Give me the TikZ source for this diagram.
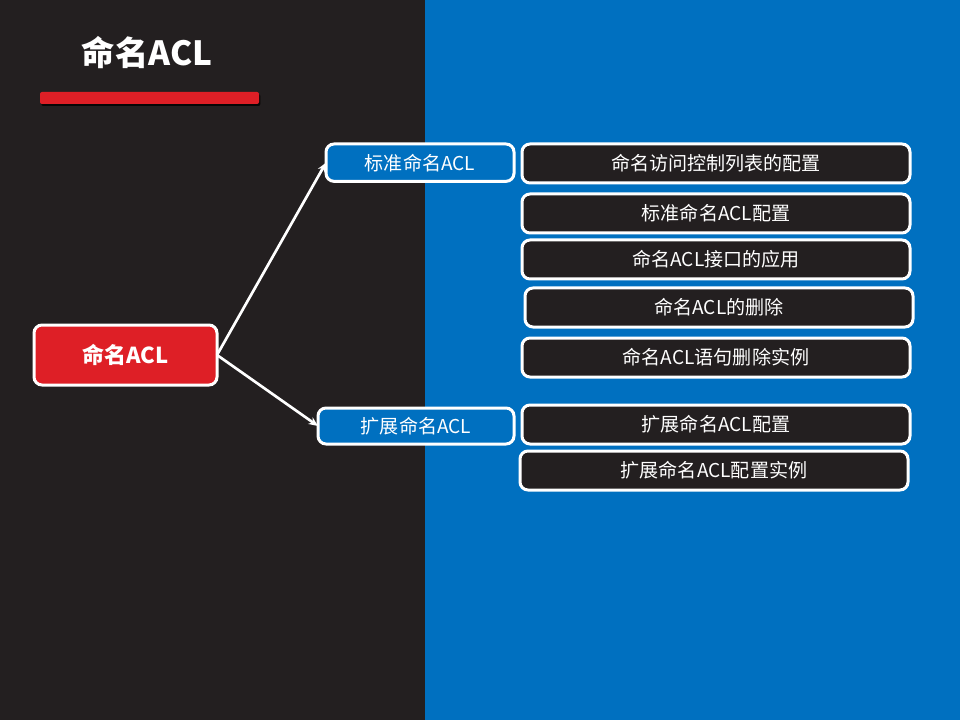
\documentclass[tikz,border=0pt]{standalone}
\usepackage{fontspec}
\setmainfont{Noto Sans CJK SC}
\usetikzlibrary{positioning, arrows.meta, shadows}
\definecolor{slidedark}{HTML}{231F20}
\definecolor{slideblue}{HTML}{0070C0}
\definecolor{aclred}{HTML}{DE1F26}

\begin{document}
\begin{tikzpicture}[x=0.75pt, y=-0.75pt, outer sep=0pt,
    every node/.style={draw=white, line width=2.25pt, rounded corners=6pt, text=white, anchor=north west, font=\fontsize{14.3pt}{17pt}\selectfont},
    rootbox/.style={fill=aclred, minimum width=137.25pt, minimum height=45pt, font=\fontsize{16.5pt}{20pt}\selectfont\bfseries},
    branchbox/.style={fill=slideblue, minimum height=28pt},
    itembox/.style={fill=slidedark, minimum width=291pt, minimum height=29.25pt},
    arrowline/.style={draw=white, line width=2pt, -{Stealth[length=7pt, width=6pt]}}]
    \useasboundingbox (0,0) rectangle (960,720);
    % background halves
    \fill[slidedark] (0,0) rectangle (425,720);
    \fill[slideblue] (425,0) rectangle (960,720);

    % title and bar
    \node (title) [draw=none, anchor=center, font=\fontsize{25pt}{30pt}\selectfont\bfseries] at (147,53) {命名ACL};
    \fill[aclred, rounded corners=1.5pt, drop shadow={opacity=0.8, fill=black, shadow xshift=1pt, shadow yshift=-1.5pt}] (40,92) rectangle (259,104);

    % root and branches
    \node (root) [rootbox] at (34,325) {命名ACL};
    \node (std) [branchbox, minimum width=141pt] at (326,144) {标准命名ACL};
    \node (ext) [branchbox, minimum width=147pt, minimum height=27pt] at (318,408) {扩展命名ACL};

    % items
    \node (item1) [itembox] at (522,144) {命名访问控制列表的配置};
    \node (item2) [itembox] at (522,194) {标准命名ACL配置};
    \node (item3) [itembox] at (522,240) {命名ACL接口的应用};
    \node (item4) [itembox] at (525,288) {命名ACL的删除};
    \node (item5) [itembox] at (522,338) {命名ACL语句删除实例};
    \node (item6) [itembox] at (522,405) {扩展命名ACL配置};
    \node (item7) [itembox] at (520,451) {扩展命名ACL配置实例};

    \draw[arrowline] (root.east) -- (std.west);
    \draw[arrowline] (root.east) -- (ext.west);
\end{tikzpicture}
\end{document}
